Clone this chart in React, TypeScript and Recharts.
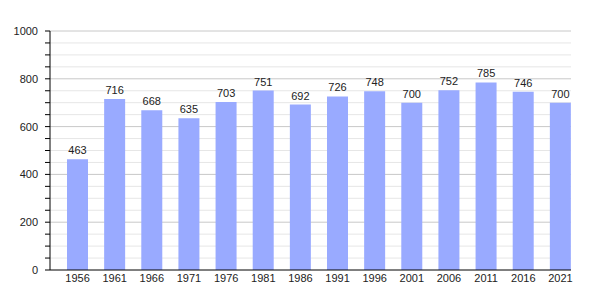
import * as React from "react";
import { Bar, BarChart, CartesianGrid, LabelList, XAxis, YAxis } from "recharts";

const years = ["1956", "1961", "1966", "1971", "1976", "1981", "1986", "1991", "1996", "2001", "2006", "2011", "2016", "2021"];
const population = [463, 716, 668, 635, 703, 751, 692, 726, 748, 700, 752, 785, 746, 700];
const majorTicks = [0, 200, 400, 600, 800, 1000];
const minorTicks = [50, 100, 150, 250, 300, 350, 450, 500, 550, 650, 700, 750, 850, 900, 950];
const allTicks = [...majorTicks, ...minorTicks].sort((a, b) => a - b);

const data = years.map((year, i) => ({ year, value: population[i] }));

const FONT = "'Liberation Sans', Arial, sans-serif";

function YTick(props: any) {
  const { x, y, payload } = props;
  if (!majorTicks.includes(payload.value)) return null;
  return (
    <text x={x} y={y} dy={4} textAnchor="end" fontSize={11} fontFamily={FONT} fill="#222">
      {payload.value}
    </text>
  );
}

export default function App() {
  return (
    <div style={{ position: "absolute", left: 0, top: 0, background: "#fff" }}>
      <BarChart width={600} height={300} data={data} margin={{ top: 31, right: 29, bottom: 0, left: 0 }}>
        <CartesianGrid vertical={false} horizontalValues={minorTicks} stroke="#e6e6e6" />
        <CartesianGrid vertical={false} horizontalValues={majorTicks.slice(1)} stroke="#c8c8c8" />
        <XAxis
          dataKey="year"
          height={30}
          tickLine={false}
          tickSize={0}
          tickMargin={4}
          padding={{ left: 9, right: -8 }}
          axisLine={{ stroke: "#000" }}
          tick={{ fontSize: 11, fontFamily: FONT, fill: "#222" }}
          interval={0}
        />
        <YAxis
          width={50}
          domain={[0, 1000]}
          ticks={allTicks}
          interval={0}
          tickSize={5}
          tickMargin={7}
          tickLine={{ stroke: "#000" }}
          axisLine={{ stroke: "#000" }}
          tick={<YTick />}
        />
        <Bar dataKey="value" fill="#99aaff" barSize={21} isAnimationActive={false}>
          <LabelList dataKey="value" position="top" offset={5} fontSize={11} fontFamily={FONT} fill="#222" />
        </Bar>
      </BarChart>
    </div>
  );
}
